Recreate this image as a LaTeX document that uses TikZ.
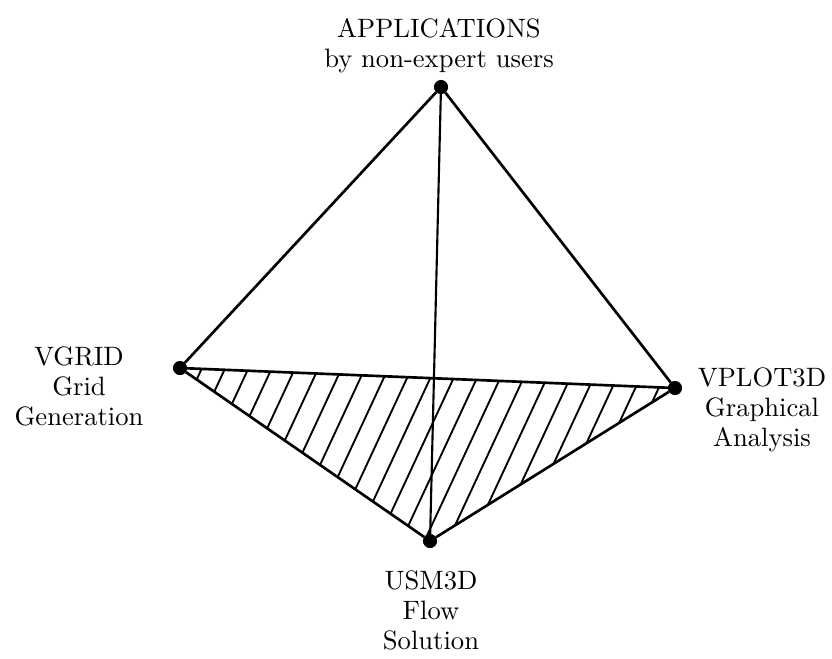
\documentclass[tikz,border=0pt]{standalone}
\begin{document}
\begin{tikzpicture}[x=0.376pt,y=-0.376pt,
  corner/.style={circle, fill=black, draw=black, inner sep=0pt, minimum size=4.9pt},
  edge/.style={line width=1pt},
  hatch/.style={line width=0.7pt},
  tag/.style={align=center, inner sep=0pt, font=\fontsize{10}{11.3}\selectfont}]
\useasboundingbox (0,0) rectangle (832,658);
% the four corners
\node [corner] (apps) at (441,87) {};
\node [corner] (vgrid) at (180,368) {};
\node [corner] (vplot) at (675,388) {};
\node [corner] (usm) at (430,541) {};
% hatched face
\begin{scope}
\clip (vgrid.center) -- (vplot.center) -- (usm.center) -- cycle;
\foreach \k in {0,...,25}
  \draw [hatch] ({202+23.3*\k+93},168) -- ({202+23.3*\k-93},568);
\end{scope}
% edges
\draw [edge] (apps) -- (vgrid);
\draw [edge] (apps) -- (vplot);
\draw [edge] (vgrid) -- (vplot);
\draw [edge] (vgrid) -- (usm);
\draw [edge] (vplot) -- (usm);
\draw [line width=0.8pt] (apps) -- (usm);
% labels
\node [tag] (appstext) at (439,46) {APPLICATIONS\\by non-expert users};
\node [tag] (vgridtext) at (79,386) {VGRID\\Grid\\Generation};
\node [tag] (vplottext) at (762,410) {VPLOT3D\\Graphical\\Analysis};
\node [tag] (usmtext) at (431,610) {USM3D\\Flow\\Solution};
\end{tikzpicture}
\end{document}
